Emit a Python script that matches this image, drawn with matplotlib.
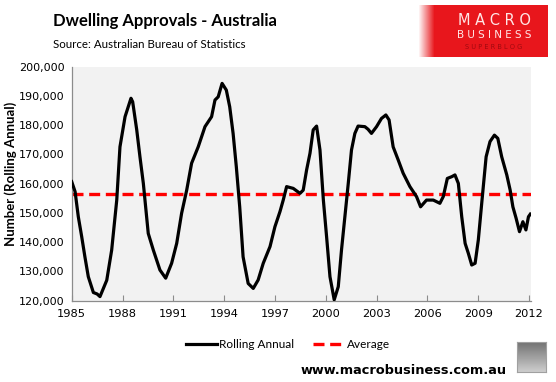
import numpy as np
import matplotlib
matplotlib.use('Agg')
import matplotlib.pyplot as plt
from matplotlib.ticker import FuncFormatter

# Rolling annual dwelling approvals (decimal years)
years = [1985.0, 1985.2, 1985.39, 1985.59, 1985.78, 1985.98, 1986.28, 1986.5, 1986.67,
         1987.07, 1987.36, 1987.66, 1987.85, 1988.15, 1988.5, 1988.6, 1988.84, 1989.03,
         1989.23, 1989.52, 1989.82, 1990.21, 1990.55, 1990.9, 1991.2, 1991.49, 1991.79,
         1992.08, 1992.47, 1992.87, 1993.26, 1993.46, 1993.65, 1993.88, 1994.13, 1994.33,
         1994.53, 1994.72, 1994.92, 1995.12, 1995.42, 1995.72, 1996.01, 1996.31, 1996.71,
         1997.0, 1997.3, 1997.49, 1997.69, 1998.08, 1998.48, 1998.67, 1998.87, 1999.07,
         1999.26, 1999.46, 1999.66, 1999.86, 2000.05, 2000.25, 2000.5, 2000.74, 2000.93,
         2001.13, 2001.33, 2001.52, 2001.72, 2001.91, 2002.31, 2002.5, 2002.7, 2003.0,
         2003.29, 2003.55, 2003.74, 2003.98, 2004.28, 2004.57, 2004.97, 2005.36, 2005.6,
         2005.95, 2006.35, 2006.74, 2006.94, 2007.18, 2007.44, 2007.63, 2007.83, 2008.03,
         2008.23, 2008.42, 2008.62, 2008.82, 2009.01, 2009.21, 2009.47, 2009.7, 2009.96,
         2010.16, 2010.39, 2010.69, 2010.89, 2011.05, 2011.24, 2011.44, 2011.64, 2011.82,
         2011.97, 2012.08]
approvals = [160700, 157300, 148700, 141900, 135000, 128200, 122800, 122300, 121400,
             127000, 137300, 154400, 172600, 182900, 189200, 188000, 178400, 169200,
             160100, 143000, 137300, 130500, 127700, 132800, 139600, 149900, 157800,
             167000, 172600, 179500, 182900, 188600, 189700, 194300, 192000, 186300,
             177200, 165800, 152100, 135000, 125900, 124200, 127100, 132800, 138500,
             145300, 150500, 154400, 159000, 158400, 156700, 157800, 164700, 170400,
             178400, 179700, 171500, 154400, 141900, 128200, 120300, 124800, 137300,
             148700, 160100, 171500, 177200, 179700, 179500, 178600, 177200, 179500,
             182300, 183500, 181800, 172600, 168100, 163600, 159000, 155600, 152100,
             154400, 154400, 153300, 155600, 161800, 162400, 163000, 160100, 148700,
             139600, 136200, 132200, 132800, 140800, 153300, 169200, 174400, 176600,
             175500, 169200, 163000, 157800, 152100, 148200, 143600, 147000, 144200,
             148700, 149600]
average = 156400

xtick_years = [1985, 1988, 1991, 1994, 1997, 2000, 2003, 2006, 2009, 2012]
yticks = list(range(120000, 200001, 10000))

fig = plt.figure(figsize=(5.56, 3.82), dpi=100)
ax = fig.add_axes([71.7 / 556, 1 - 300.7 / 382, (531 - 71.7) / 556, (300.7 - 66.7) / 382])
ax.set_facecolor('#F2F2F2')

ax.plot(years, approvals, color='black', lw=2.3, label='Rolling Annual',
        solid_joinstyle='round', zorder=3)
ax.axhline(average, color='#FF0000', lw=2.4, dashes=(3.3, 1.7), label='Average', zorder=2)

ax.set_xlim(1985, 2012.12)
ax.set_ylim(120000, 200000)
ax.set_xticks(xtick_years)
ax.set_yticks(yticks)
ax.yaxis.set_major_formatter(FuncFormatter(lambda v, p: f'{int(v):,}'))

for s in ['top', 'right']:
    ax.spines[s].set_visible(False)
for s in ['left', 'bottom']:
    ax.spines[s].set_color('#8C8C8C')
    ax.spines[s].set_linewidth(0.9)
ax.tick_params(axis='x', direction='in', length=4, color='#8C8C8C', labelsize=8.2, pad=6)
ax.tick_params(axis='y', length=0, labelsize=8.0, pad=5)

ax.set_ylabel('Number (Rolling Annual)', fontsize=9.5, fontweight='bold', family='Lato')
ax.yaxis.set_label_coords(-0.119, 0.541)

leg = ax.legend(loc='center', bbox_to_anchor=(0.471, -0.189), ncol=2, frameon=False,
                prop={'family': 'Lato', 'size': 8.5}, handlelength=2.6, columnspacing=1.6,
                handletextpad=0.25)

fig.text(53 / 556, 1 - 21 / 382, 'Dwelling Approvals - Australia', fontsize=12,
         fontweight='bold', family='Lato', va='center')
fig.text(53 / 556, 1 - 44 / 382, 'Source: Australian Bureau of Statistics', fontsize=8.3,
         family='Lato', va='center')
fig.text(507 / 556, 1 - 370 / 382, 'www.macrobusiness.com.au', fontsize=9.3,
         fontweight='bold', family='DejaVu Sans', ha='right', va='center')

# logo box
lax = fig.add_axes([410 / 556, 1 - 57 / 382, (548 - 410) / 556, 52 / 382])
n = 138
grad = np.ones((10, n, 3))
red = np.array([0.91, 0.09, 0.11])
t = np.clip((np.arange(n) - 8) / 16.0, 0, 1)
for i in range(n):
    grad[:, i, :] = (1 - t[i]) * np.array([1, 1, 1]) + t[i] * red
lax.imshow(grad, aspect='auto', extent=[0, 1, 0, 1])
lax.set_xlim(0, 1)
lax.set_ylim(0, 1)
lax.axis('off')
cx = (494 - 410) / 138
lax.text(cx, 0.70, 'M A C R O', color='#FFE6E6', fontsize=10.5, ha='center', va='center')
lax.text(cx, 0.42, 'B U S I N E S S', color='#FFE6E6', fontsize=7.5, ha='center', va='center')
lax.text(cx, 0.19, 'S U P E R B L O G', color='#A00A10', fontsize=4.8, ha='center', va='center')

# wolf picture placeholder
wax = fig.add_axes([517 / 556, 1 - 372 / 382, 29 / 556, 30 / 382])
wax.imshow(np.linspace(0.45, 0.8, 30).reshape(-1, 1) * np.ones((1, 29)), cmap='gray',
           vmin=0, vmax=1, aspect='auto')
wax.set_xticks([])
wax.set_yticks([])
for s in wax.spines.values():
    s.set_color('#A0A0A0')

fig.savefig('out.png', dpi=100)
